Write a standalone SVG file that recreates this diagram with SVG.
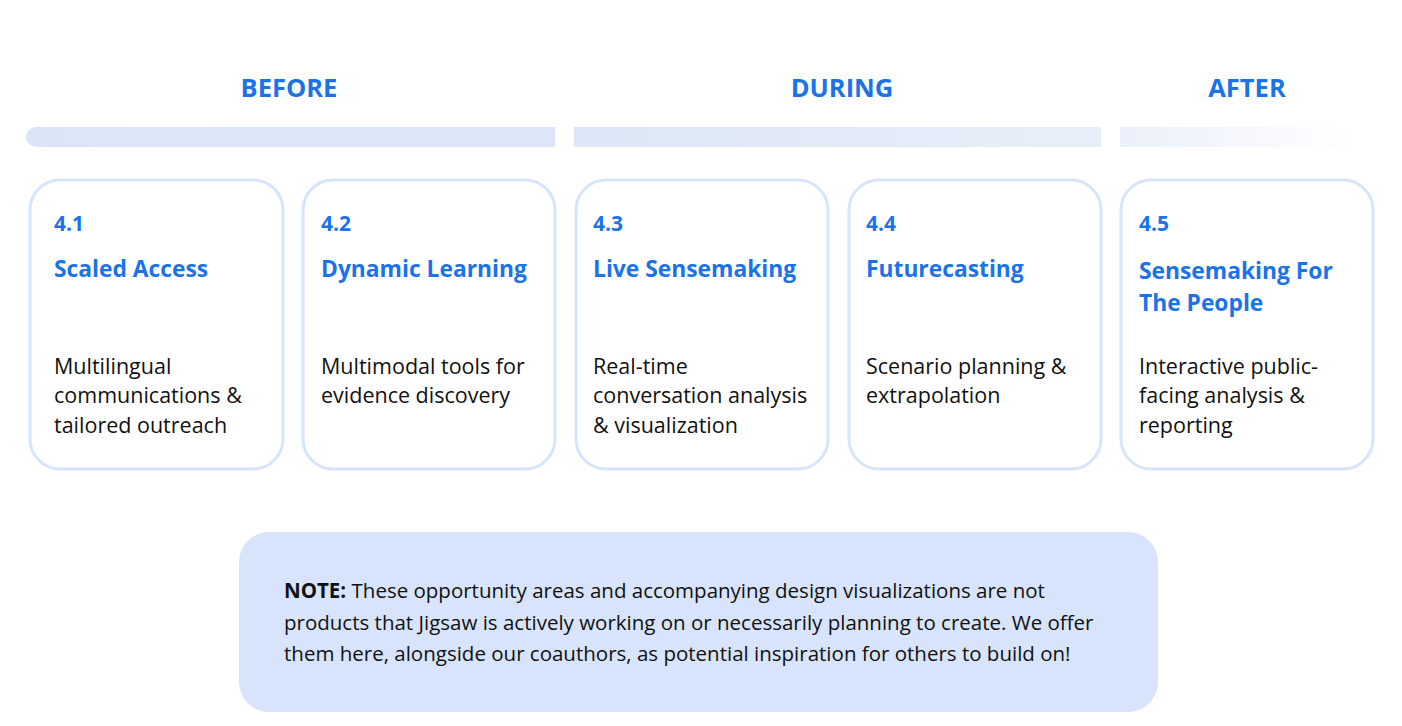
<svg xmlns="http://www.w3.org/2000/svg" width="1402" height="726" viewBox="0 0 1402 726">
<defs>
<linearGradient id="bar" gradientUnits="userSpaceOnUse" x1="26" y1="0" x2="1362" y2="0">
<stop offset="0" stop-color="#dae5f6"/>
<stop offset="0.4" stop-color="#dce6f6"/>
<stop offset="0.8" stop-color="#e8eef9"/>
<stop offset="1" stop-color="#ffffff"/>
</linearGradient>
<style>
.hdr{font-family:"Open Sans",sans-serif;font-weight:700;font-size:25.5px;fill:#1a73e8;text-anchor:middle}
.card{fill:#ffffff;stroke:#d7e4fd;stroke-width:3}
.num{font-family:"Open Sans",sans-serif;font-weight:700;font-size:21px;fill:#1a73e8}
.ttl{font-family:"Open Sans",sans-serif;font-weight:700;font-size:22.8px;fill:#1a73e8}
.body{font-family:"Open Sans",sans-serif;font-size:21.5px;fill:#111111}
.note{font-family:"Open Sans",sans-serif;font-size:20.5px;fill:#111111}
</style>
</defs>
<rect width="1402" height="726" fill="#ffffff"/>
<g id="phases">
<text class="hdr" x="289" y="97">BEFORE</text>
<text class="hdr" x="842" y="97">DURING</text>
<text class="hdr" x="1247" y="97">AFTER</text>
<path d="M36 127 H555 V147 H36 A10 10 0 0 1 36 127 Z" fill="url(#bar)"/>
<rect x="574" y="127" width="527" height="20" fill="url(#bar)"/>
<rect x="1120" y="127" width="242" height="20" fill="url(#bar)"/>
</g>
<g id="card-4-1">
<rect class="card" x="30" y="180" width="253" height="289" rx="30"/>
<text class="num" x="54" y="231">4.1</text>
<text class="ttl" x="54" y="277">Scaled Access</text>
<text class="body" x="54" y="374">Multilingual</text>
<text class="body" x="54" y="403">communications &amp;</text>
<text class="body" x="54" y="433">tailored outreach</text>
</g>
<g id="card-4-2">
<rect class="card" x="303" y="180" width="252" height="289" rx="30"/>
<text class="num" x="321" y="231">4.2</text>
<text class="ttl" x="321" y="277">Dynamic Learning</text>
<text class="body" x="321" y="374">Multimodal tools for</text>
<text class="body" x="321" y="403">evidence discovery</text>
</g>
<g id="card-4-3">
<rect class="card" x="576" y="180" width="252" height="289" rx="30"/>
<text class="num" x="593" y="231">4.3</text>
<text class="ttl" x="593" y="277">Live Sensemaking</text>
<text class="body" x="593" y="374">Real-time</text>
<text class="body" x="593" y="403">conversation analysis</text>
<text class="body" x="593" y="433">&amp; visualization</text>
</g>
<g id="card-4-4">
<rect class="card" x="849" y="180" width="252" height="289" rx="30"/>
<text class="num" x="866" y="231">4.4</text>
<text class="ttl" x="866" y="277">Futurecasting</text>
<text class="body" x="866" y="374">Scenario planning &amp;</text>
<text class="body" x="866" y="403">extrapolation</text>
</g>
<g id="card-4-5">
<rect class="card" x="1121" y="180" width="252" height="289" rx="30"/>
<text class="num" x="1139" y="231">4.5</text>
<text class="ttl" x="1139" y="279">Sensemaking For</text>
<text class="ttl" x="1139" y="311">The People</text>
<text class="body" x="1139" y="374">Interactive public-</text>
<text class="body" x="1139" y="403">facing analysis &amp;</text>
<text class="body" x="1139" y="433">reporting</text>
</g>
<g id="note">
<rect x="239" y="532" width="919" height="180" rx="30" fill="#d7e4fc"/>
<text class="note" x="284" y="598"><tspan font-weight="700">NOTE:</tspan> These opportunity areas and accompanying design visualizations are not</text>
<text class="note" x="284" y="630">products that Jigsaw is actively working on or necessarily planning to create. We offer</text>
<text class="note" x="284" y="661">them here, alongside our coauthors, as potential inspiration for others to build on!</text>
</g>
</svg>
